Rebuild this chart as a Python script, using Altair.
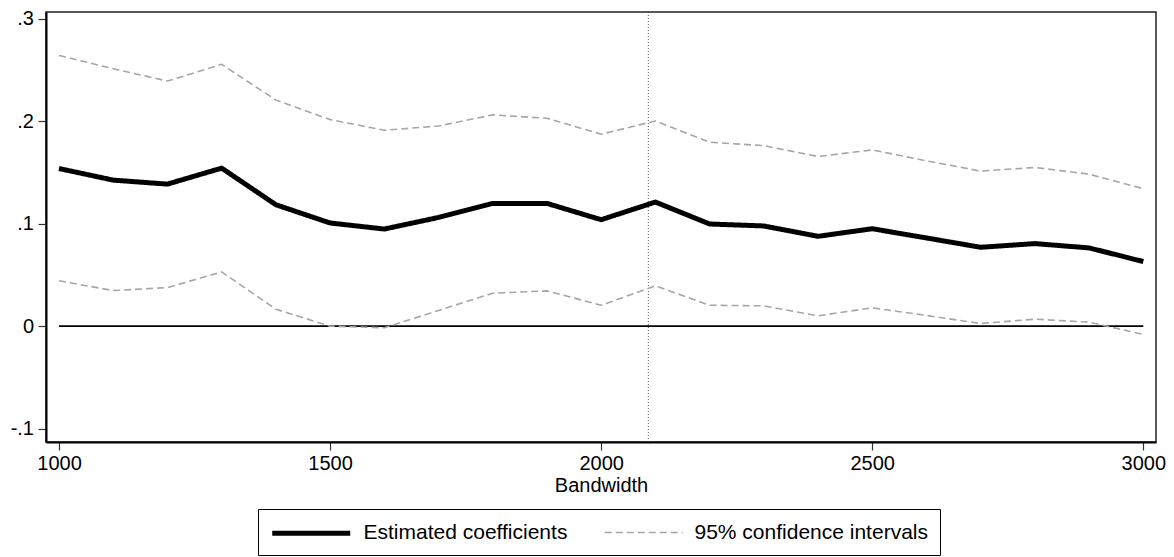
import altair as alt
import pandas as pd

bandwidth = [1000, 1100, 1200, 1300, 1400, 1500, 1600, 1700, 1800, 1900, 2000,
             2100, 2200, 2300, 2400, 2500, 2600, 2700, 2800, 2900, 3000]
coef = [0.1537, 0.1424, 0.1385, 0.1541, 0.1184, 0.1006, 0.0947, 0.1060, 0.1197, 0.1197, 0.1038,
        0.1210, 0.0996, 0.0977, 0.0876, 0.0950, 0.0860, 0.0769, 0.0805, 0.0763, 0.0630]
upper = [0.2640, 0.2510, 0.2390, 0.2553, 0.2205, 0.2014, 0.1910, 0.1952, 0.2060, 0.2027, 0.1872,
         0.2001, 0.1794, 0.1760, 0.1654, 0.1719, 0.1612, 0.1512, 0.1547, 0.1482, 0.1340]
lower = [0.0442, 0.0347, 0.0376, 0.0529, 0.0165, 0.0000, -0.0016, 0.0153, 0.0321, 0.0344, 0.0204,
         0.0393, 0.0204, 0.0198, 0.0101, 0.0179, 0.0104, 0.0026, 0.0068, 0.0039, -0.0081]
series_names = ["Estimated coefficients", "95% confidence intervals"]
x_ticks = [1000, 1500, 2000, 2500, 3000]
y_ticks = [-0.1, 0, 0.1, 0.2, 0.3]
optimal_bw = [2087]
zero_x = [1000, 3000]

rows = []
for b, c in zip(bandwidth, coef):
    rows.append({"bw": b, "val": c, "series": series_names[0], "line": "coef"})
for b, u in zip(bandwidth, upper):
    rows.append({"bw": b, "val": u, "series": series_names[1], "line": "upper"})
for b, l in zip(bandwidth, lower):
    rows.append({"bw": b, "val": l, "series": series_names[1], "line": "lower"})
df = pd.DataFrame(rows)

FONT = "Liberation Sans"

xscale = alt.Scale(domain=[976, 3023.4], nice=False, zero=False)
yscale = alt.Scale(domain=[-0.11297, 0.30634], nice=False, zero=False)

xaxis = alt.Axis(values=x_ticks, format="d", tickSize=8, labelPadding=3.5, title="Bandwidth",
                 titlePadding=2, grid=False, labelFlush=False)
yaxis = alt.Axis(values=y_ticks, tickSize=8, labelPadding=4.5, title="", grid=False,
                 labelExpr="datum.value == 0 ? '0' : (datum.value < 0 ? '-' : '') + replace(format(abs(datum.value), '.1f'), '0.', '.')")

zero_df = pd.DataFrame({"bw": zero_x, "val": [0, 0]})
zero_line = alt.Chart(zero_df).mark_line(color="black", strokeWidth=1.6).encode(
    x=alt.X("bw:Q", scale=xscale, axis=xaxis),
    y=alt.Y("val:Q", scale=yscale, axis=yaxis),
)

vline = alt.Chart(pd.DataFrame({"bw": optimal_bw})).mark_rule(
    color="#555555", strokeWidth=1, strokeDash=[1, 2]
).encode(x=alt.X("bw:Q", scale=xscale))

lines = alt.Chart(df).mark_line(strokeCap="butt", strokeJoin="round").encode(
    x=alt.X("bw:Q", scale=xscale),
    y=alt.Y("val:Q", scale=yscale),
    detail="line:N",
    color=alt.Color("series:N", scale=alt.Scale(domain=series_names, range=["#000000", "#a6a6a6"]),
                    legend=alt.Legend(
                        title=None, orient="none", legendX=212, legendY=497,
                        direction="horizontal", strokeColor="#000000", padding=11.5,
                        symbolType="M-1,0H7", symbolSize=380, labelOffset=69,
                        columnPadding=34, labelFontSize=21, labelLimit=400,
                        labelFont=FONT, labelColor="#000000")),
    strokeDash=alt.StrokeDash("series:N", scale=alt.Scale(domain=series_names, range=[[1, 0], [7, 4]]),
                              legend=alt.Legend(title=None)),
    strokeWidth=alt.StrokeWidth("series:N", scale=alt.Scale(domain=series_names, range=[5, 1.6]),
                                legend=alt.Legend(title=None)),
)

chart = alt.layer(zero_line, vline, lines).properties(
    width=1110, height=430,
    autosize=alt.AutoSizeParams(type="none"),
    padding={"left": 38, "top": 4, "right": 10, "bottom": 115},
).configure_view(
    stroke="#222222", strokeWidth=1.5
).configure_axis(
    labelFont=FONT, titleFont=FONT, labelFontSize=20, titleFontSize=20,
    titleFontWeight="normal", labelColor="#000000", titleColor="#000000",
    domainColor="#000000", domainWidth=2, tickColor="#333333", tickWidth=1.2,
).configure_legend(
    labelFont=FONT
)

chart.save("out.html", embed_options={"renderer": "svg", "actions": False})
